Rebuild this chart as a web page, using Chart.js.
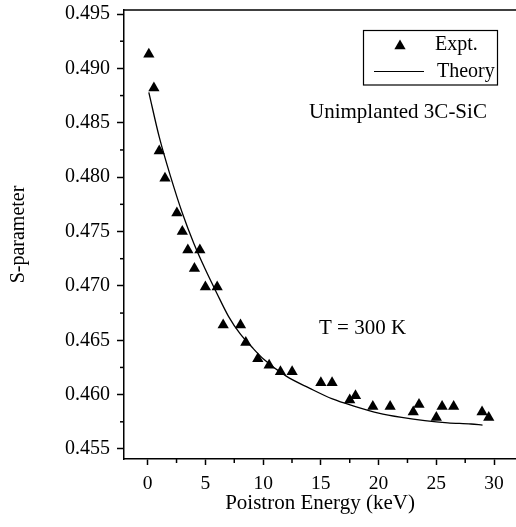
<!DOCTYPE html>
<html>
<head>
<meta charset="utf-8">
<script src="https://cdn.jsdelivr.net/npm/chart.js@4.4.1/dist/chart.umd.min.js"></script>
<style>
  html, body { margin: 0; padding: 0; background: #fff; }
  #wrap { width: 516px; height: 527px; }
</style>
</head>
<body>
<div id="wrap"><canvas id="c" width="516" height="527"></canvas></div>
<script>
// ---- data ----
const exptEnergy = [0.1, 0.54, 1.0, 1.5, 2.53, 3.0, 3.48, 4.05, 4.52, 5.0, 6.02, 6.54, 8.04, 8.5, 9.54, 10.52, 11.5, 12.51, 15.0, 15.97, 17.5, 18.0, 19.5, 21.0, 23.0, 23.5, 25.0, 25.5, 26.5, 28.96, 29.54];
const exptS = [0.4913, 0.4882, 0.4824, 0.4799, 0.4767, 0.4750, 0.4733, 0.4716, 0.4733, 0.4699, 0.4699, 0.4664, 0.4664, 0.4648, 0.4633, 0.4627, 0.4621, 0.4621, 0.4611, 0.4611, 0.4595, 0.4599, 0.4589, 0.4589, 0.4584, 0.4591, 0.4579, 0.4589, 0.4589, 0.4584, 0.4579];
const theoryEnergy = [0.1, 1, 2, 3, 4, 5, 6, 7, 8, 9, 10, 12, 14, 16, 18, 20, 22, 24, 26, 28, 29];
const theoryS = [0.4878, 0.4837, 0.4800, 0.4767, 0.4739, 0.4715, 0.4693, 0.4672, 0.4656, 0.4644, 0.4633, 0.4617, 0.4606, 0.4596, 0.4589, 0.4583, 0.4579, 0.4576, 0.4574, 0.4573, 0.4572];
const xTitle = 'Poistron Energy (keV)';
const yTitle = 'S-parameter';
const seriesNames = ['Expt.', 'Theory'];
const notes = [
  { text: 'Unimplanted 3C-SiC', x: 13.97, y: 0.4854 },
  { text: 'T = 300 K', x: 14.84, y: 0.46558 }
];

const FONT = '"Liberation Serif", "Times New Roman", serif';

function zeroPad(s) { s.paddingLeft = 0; s.paddingRight = 0; s.paddingTop = 0; s.paddingBottom = 0; }

const extrasPlugin = {
  id: 'extras',
  afterDraw(chart) {
    const ctx = chart.ctx;
    const xs = chart.scales.x, ys = chart.scales.y;
    const area = chart.chartArea;
    ctx.save();
    ctx.strokeStyle = '#000';
    ctx.fillStyle = '#000';
    // top frame line
    ctx.lineWidth = 1.5;
    ctx.beginPath();
    ctx.moveTo(area.left, area.top);
    ctx.lineTo(area.right, area.top);
    ctx.stroke();
    // minor ticks
    ctx.lineWidth = 1.5;
    const xt = xs.ticks.map(t => t.value);
    const minorX = [];
    for (let i = 0; i < xt.length - 1; i++) minorX.push((xt[i] + xt[i + 1]) / 2);
    if (xt.length > 1) {
      const stepX = xt[1] - xt[0];
      minorX.push(xt[0] - stepX / 2, xt[xt.length - 1] + stepX / 2);
    }
    minorX.forEach(v => {
      if (v >= xs.min && v <= xs.max) {
        const px = xs.getPixelForValue(v);
        ctx.beginPath(); ctx.moveTo(px, area.bottom); ctx.lineTo(px, area.bottom + 4); ctx.stroke();
      }
    });
    const yt = ys.ticks.map(t => t.value);
    for (let i = 0; i < yt.length - 1; i++) {
      const py = ys.getPixelForValue((yt[i] + yt[i + 1]) / 2);
      ctx.beginPath(); ctx.moveTo(area.left, py); ctx.lineTo(area.left - 4, py); ctx.stroke();
    }
    // annotations
    ctx.font = '21px ' + FONT;
    ctx.textAlign = 'left';
    ctx.textBaseline = 'alphabetic';
    notes.forEach(n => {
      ctx.fillText(n.text, xs.getPixelForValue(n.x), ys.getPixelForValue(n.y));
    });
    // legend box
    ctx.lineWidth = 1.2;
    ctx.strokeRect(363.5, 30.5, 134, 54.5);
    // triangle marker
    const mx = 400, my = 46, r = 6.5;
    ctx.beginPath();
    ctx.moveTo(mx, my - r);
    ctx.lineTo(mx + r * Math.sin(2 * Math.PI / 3), my - r * Math.cos(2 * Math.PI / 3));
    ctx.lineTo(mx + r * Math.sin(4 * Math.PI / 3), my - r * Math.cos(4 * Math.PI / 3));
    ctx.closePath();
    ctx.fill();
    // line sample
    ctx.lineWidth = 1.2;
    ctx.beginPath();
    ctx.moveTo(374, 71.5); ctx.lineTo(424, 71.5); ctx.stroke();
    ctx.font = '20px ' + FONT;
    ctx.textBaseline = 'alphabetic';
    ctx.fillText(chart.data.datasets[0].label, 435, 50);
    ctx.fillText(chart.data.datasets[1].label, 437, 77);
    ctx.restore();
  }
};

new Chart(document.getElementById('c'), {
  type: 'scatter',
  data: {
    datasets: [
      {
        label: seriesNames[0],
        data: exptEnergy.map((x, i) => ({ x, y: exptS[i] })),
        pointStyle: 'triangle',
        pointRadius: 6.5,
        pointBorderWidth: 0,
        backgroundColor: '#000',
        borderColor: '#000',
        showLine: false
      },
      {
        label: seriesNames[1],
        type: 'line',
        data: theoryEnergy.map((x, i) => ({ x, y: theoryS[i] })),
        pointRadius: 0,
        borderColor: '#000',
        borderWidth: 1.3,
        fill: false,
        showLine: true,
        cubicInterpolationMode: 'monotone'
      }
    ]
  },
  options: {
    responsive: false,
    animation: false,
    devicePixelRatio: 1,
    layout: { autoPadding: false, padding: { top: 10, right: 0, left: 0, bottom: 0 } },
    plugins: { legend: { display: false }, tooltip: { enabled: false } },
    scales: {
      x: {
        type: 'linear',
        min: -2.05,
        max: 31.9,
        afterFit(s) { s.height = 68; zeroPad(s); },
        border: { display: true, color: '#000', width: 1.5 },
        grid: { display: true, drawOnChartArea: false, drawTicks: true, tickLength: 6, tickWidth: 1.5, tickColor: '#000' },
        ticks: { stepSize: 5, includeBounds: false, autoSkip: false, maxRotation: 0, color: '#000', padding: 7, font: { family: FONT, size: 19.5 } },
        title: { display: true, text: xTitle, color: '#000', font: { family: FONT, size: 21 }, padding: { bottom: 11, top: 0 } }
      },
      y: {
        type: 'linear',
        min: 0.45408,
        max: 0.49537,
        afterFit(s) { s.width = 124; zeroPad(s); },
        border: { display: true, color: '#000', width: 1.5 },
        grid: { display: true, drawOnChartArea: false, drawTicks: true, tickLength: 7, tickWidth: 1.5, tickColor: '#000' },
        ticks: { stepSize: 0.005, includeBounds: false, autoSkip: false, color: '#000', padding: 7, font: { family: FONT, size: 20 },
          callback: v => v.toFixed(3) },
        title: { display: true, text: yTitle, color: '#000', font: { family: FONT, size: 20 }, padding: { top: 7, bottom: 0 } }
      }
    }
  },
  plugins: [extrasPlugin]
});
</script>
</body>
</html>
